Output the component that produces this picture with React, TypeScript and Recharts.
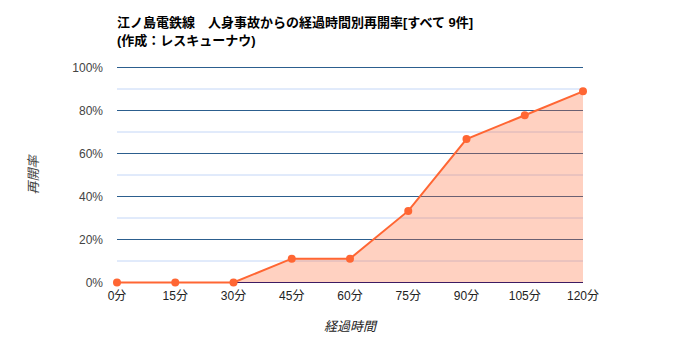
import { Area, AreaChart, CartesianGrid, XAxis, YAxis, Label } from "recharts"

const CATEGORIES = ["0分", "15分", "30分", "45分", "60分", "75分", "90分", "105分", "120分"]
const RATES = [0, 0, 0, 11.1, 11.1, 33.3, 66.7, 77.8, 88.9]
const MAJOR_TICKS = [0, 20, 40, 60, 80, 100]
const MINOR_TICKS = [10, 30, 50, 70, 90]

const data = CATEGORIES.map((t, i) => ({ t, rate: RATES[i] }))

const FONT = "Arial, 'Liberation Sans', 'Noto Sans CJK JP', sans-serif"
const LINE = "#ff6633"

export default function App() {
  return (
    <div style={{ position: "absolute", left: 0, top: 0, width: 700, height: 350, background: "#fff", fontFamily: FONT }}>
      <div style={{ position: "absolute", left: 117, top: 14, fontSize: 13, fontWeight: "bold", lineHeight: "18px", color: "#000", whiteSpace: "pre" }}>
        {"江ノ島電鉄線　人身事故からの経過時間別再開率[すべて 9件]\n(作成：レスキューナウ)"}
      </div>
      <AreaChart width={700} height={350} data={data} margin={{ top: 67.5, right: 117, bottom: 37.5, left: 0 }}>
        <CartesianGrid vertical={false} horizontalValues={MINOR_TICKS} stroke="#c3d6f7" />
        <CartesianGrid vertical={false} horizontalValues={MAJOR_TICKS.filter((v) => v > 0)} stroke="#2c5e8e" />
        <CartesianGrid vertical={false} horizontalValues={[0]} stroke="#1a0f6b" />
        <XAxis
          dataKey="t"
          tickLine={false}
          axisLine={false}
          tick={{ fontSize: 12, fill: "#222", fontFamily: FONT }}
          tickSize={6}
          tickMargin={3}
          interval={0}
        >
          <Label
            content={() => (
              <text x={350} y={331} textAnchor="middle" fontSize={13} fontStyle="italic" fill="#222" fontFamily={FONT}>
                経過時間
              </text>
            )}
          />
        </XAxis>
        <YAxis
          width={117}
          domain={[0, 100]}
          ticks={MAJOR_TICKS}
          tickFormatter={(v: number) => `${v}%`}
          tickLine={false}
          axisLine={false}
          tick={{ fontSize: 12, fill: "#444", fontFamily: FONT }}
          tickSize={6}
          tickMargin={8}
        >
          <Label
            content={() => (
              <text x={35} y={175} transform="rotate(-90 35 175)" textAnchor="middle" dominantBaseline="middle" fontSize={13} fontStyle="italic" fill="#444" fontFamily={FONT}>
                再開率
              </text>
            )}
          />
        </YAxis>
        <Area
          type="linear"
          dataKey="rate"
          stroke={LINE}
          strokeWidth={2}
          fill={LINE}
          fillOpacity={0.3}
          dot={{ r: 4, fill: LINE, fillOpacity: 1, stroke: "none" }}
          activeDot={false}
          isAnimationActive={false}
        />
      </AreaChart>
    </div>
  )
}
